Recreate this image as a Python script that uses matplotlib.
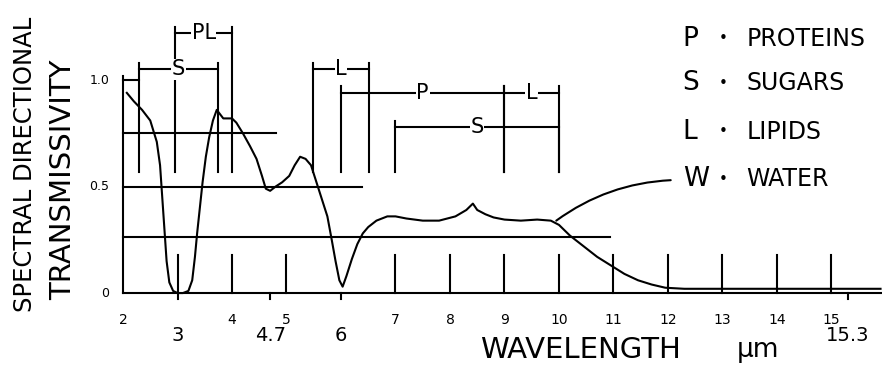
import matplotlib
matplotlib.use("Agg")
import matplotlib.pyplot as plt

# transmissivity curve (wavelength in um)
wavelength = [2.07, 2.2, 2.35, 2.5, 2.62, 2.68, 2.72, 2.76, 2.8, 2.85, 2.92, 3.0, 3.1, 3.2,
              3.27, 3.32, 3.36, 3.41, 3.46, 3.52, 3.58, 3.65, 3.72, 3.78, 3.84, 4.0, 4.08,
              4.2, 4.33, 4.45, 4.55, 4.62, 4.7, 4.8, 4.92, 5.05, 5.15, 5.25, 5.35, 5.45,
              5.55, 5.65, 5.75, 5.83, 5.9, 5.97, 6.03, 6.1, 6.2, 6.3, 6.4, 6.5, 6.65, 6.85,
              7.0, 7.2, 7.5, 7.8, 8.1, 8.3, 8.42, 8.5, 8.65, 8.8, 9.0, 9.3, 9.6, 9.85, 10.0,
              10.2, 10.45, 10.7, 10.95, 11.2, 11.45, 11.7, 11.95, 12.3, 13.0, 14.0, 15.0,
              15.5, 15.9]
transmissivity = [0.94, 0.9, 0.86, 0.81, 0.71, 0.6, 0.45, 0.3, 0.15, 0.05, 0.01, 0.0, 0.0, 0.01,
                  0.06, 0.17, 0.28, 0.4, 0.52, 0.64, 0.73, 0.81, 0.86, 0.84, 0.82, 0.82, 0.8,
                  0.75, 0.69, 0.63, 0.55, 0.49, 0.48, 0.5, 0.52, 0.55, 0.6, 0.64, 0.63, 0.6,
                  0.52, 0.44, 0.36, 0.25, 0.15, 0.06, 0.03, 0.08, 0.16, 0.23, 0.28, 0.31, 0.34,
                  0.36, 0.36, 0.35, 0.34, 0.34, 0.36, 0.39, 0.42, 0.39, 0.37, 0.355, 0.345,
                  0.34, 0.345, 0.34, 0.32, 0.27, 0.22, 0.17, 0.13, 0.09, 0.06, 0.04, 0.025,
                  0.02, 0.02, 0.02, 0.02, 0.02, 0.02]

# absorption band brackets: label, start, end, height
band_labels = ["S", "PL", "L", "P", "L", "S"]
band_start = [2.29, 2.96, 5.49, 6.0, 9.0, 7.0]
band_end = [3.75, 4.0, 6.51, 9.0, 10.0, 10.0]
band_height = [1.05, 1.22, 1.05, 0.94, 0.94, 0.78]

# horizontal reference lines: level, right end
ref_levels = [0.75, 0.5, 0.265]
ref_ends = [4.8, 6.38, 10.93]

small_ticks = [2, 4, 5, 7, 8, 9, 10, 11, 12, 13, 14, 15]
big_ticks = [3, 4.7, 6, 15.3]
big_tick_labels = ["3", "4.7", "6", "15.3"]
up_ticks = [3, 4, 5, 7, 8, 9, 10, 11, 12, 13, 14, 15]
down_ticks = [3, 4.7, 6, 15.3]

y_ticks = [1.0, 0.5, 0]
y_tick_labels = ["1.0", "0.5", "0"]

legend_keys = ["P", "S", "L", "W"]
legend_names = ["PROTEINS", "SUGARS", "LIPIDS", "WATER"]

fig = plt.figure(figsize=(8.82, 3.71), dpi=100)
ax = fig.add_axes([0, 0, 1, 1])
ax.set_xlim(-0.257, 15.927)
ax.set_ylim(-0.366, 1.376)
ax.axis("off")

lw = 1.5
k = "black"

# axes drawn by hand
ax.plot([2, 15.9], [0, 0], color=k, lw=lw)
ax.plot([2, 2], [0, 1.02], color=k, lw=lw)
ax.plot([2, 2.29], [1.0, 1.0], color=k, lw=lw)

for t in up_ticks:
    ax.plot([t, t], [0, 0.18], color=k, lw=lw)
for t in down_ticks:
    ax.plot([t, t], [0, -0.03], color=k, lw=lw)

for lvl, end in zip(ref_levels, ref_ends):
    ax.plot([2, end], [lvl, lvl], color=k, lw=lw)

# brackets
for lab, x0, x1, h in zip(band_labels, band_start, band_end, band_height):
    ax.plot([x0, x1], [h, h], color=k, lw=lw)
    for xv in (x0, x1):
        ax.plot([xv, xv], [h + 0.03, 0.57], color=k, lw=lw)
    ax.text((x0 + x1) / 2, h, lab, fontsize=15, ha="center", va="center",
            bbox=dict(facecolor="white", edgecolor="none", pad=0.5))

# transmissivity curve
ax.plot(wavelength, transmissivity, color=k, lw=lw)

# tick labels
for t in small_ticks:
    ax.text(t, -0.127, str(t), fontsize=10, ha="center", va="center")
for t, lab in zip(big_ticks, big_tick_labels):
    ax.text(t, -0.2, lab, fontsize=14, ha="center", va="center")
for v, lab in zip(y_ticks, y_tick_labels):
    ax.text(1.75, v, lab, fontsize=9, ha="right", va="center")

# axis titles
fig.text(0.028, 0.557, "SPECTRAL DIRECTIONAL", rotation=90, fontsize=17.5,
         ha="center", va="center")
fig.text(0.072, 0.515, "TRANSMISSIVITY", rotation=90, fontsize=21,
         ha="center", va="center")
fig.text(0.658, 0.057, "WAVELENGTH", fontsize=21, ha="center", va="center")
fig.text(0.859, 0.057, "\u03bcm", fontsize=19, ha="center", va="center")

# key
key_y = [0.895, 0.775, 0.645, 0.517]
for y, key, name in zip(key_y, legend_keys, legend_names):
    fig.text(0.774, y, key, fontsize=19, ha="left", va="center")
    fig.text(0.82, y, "\u2022", fontsize=11, ha="center", va="center")
    fig.text(0.846, y, name, fontsize=17, ha="left", va="center")

# leader from the curve to the water entry
ax.annotate("", xy=(9.95, 0.34), xytext=(12.05, 0.53),
            arrowprops=dict(arrowstyle="-", color=k, lw=lw,
                            connectionstyle="arc3,rad=0.15", shrinkA=0, shrinkB=0))

fig.savefig("out.png", dpi=100)
